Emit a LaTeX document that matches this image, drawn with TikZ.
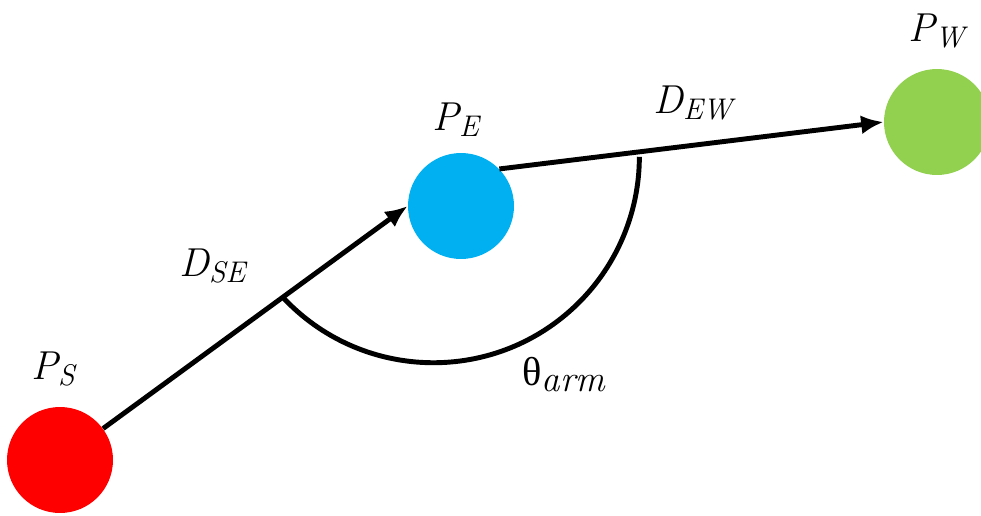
\documentclass[tikz,border=0pt]{standalone}
\usepackage{fontspec}
\newfontfamily\greekfont{Liberation Serif}
\definecolor{JointRed}{HTML}{FF0000}
\definecolor{JointBlue}{HTML}{00B0F0}
\definecolor{JointGreen}{HTML}{92D050}
\usetikzlibrary{arrows.meta}
\newcommand\lowidx[2][17]{\raisebox{-0.4ex}{\fontsize{#1}{#1}\selectfont\itshape #2}}

\begin{document}
\begin{tikzpicture}[
  x=0.02cm, y=0.02cm,
  joint/.style={circle, minimum size=2.12cm, inner sep=0pt, draw=none},
  arr/.style={-{Latex[length=4.5mm,width=3.8mm]}, draw=black, line width=2.8pt},
  angarc/.style={draw=black, line width=2.8pt},
  lbl/.style={inner sep=0pt, anchor=base west, font=\fontsize{23}{26}\selectfont\itshape},
]
\useasboundingbox (0,0) rectangle (981,515);

% joints
\node[joint, fill=JointRed]   (ps) at (60, 55)  {};
\node[joint, fill=JointBlue]  (pe) at (461, 309) {};
\node[joint, fill=JointGreen] (pw) at (937, 393) {};

\node[lbl] (lps) at (31, 136)  {P\lowidx{S}};
\node[lbl] (lpe) at (432, 385) {P\lowidx{E}};
\node[lbl] (lpw) at (908, 474) {P\lowidx{W}};

% segments
\draw[arr] (ps) -- coordinate[pos=0.59] (armA) (pe.west);
\draw[arr] (pe.44) -- coordinate[pos=0.37] (armB) (pw.west);

\node[lbl] (dse) at (179, 239) {D\lowidx{SE}};
\node[lbl] (dew) at (653, 402) {D\lowidx{EW}};

% arm angle
\draw[angarc] (armA) arc[start angle=223, end angle=360, radius=4.12cm];
\node[lbl] (tarm) at (522, 130) {{\greekfont\upshape θ}\lowidx[21]{arm}};

\end{tikzpicture}
\end{document}
